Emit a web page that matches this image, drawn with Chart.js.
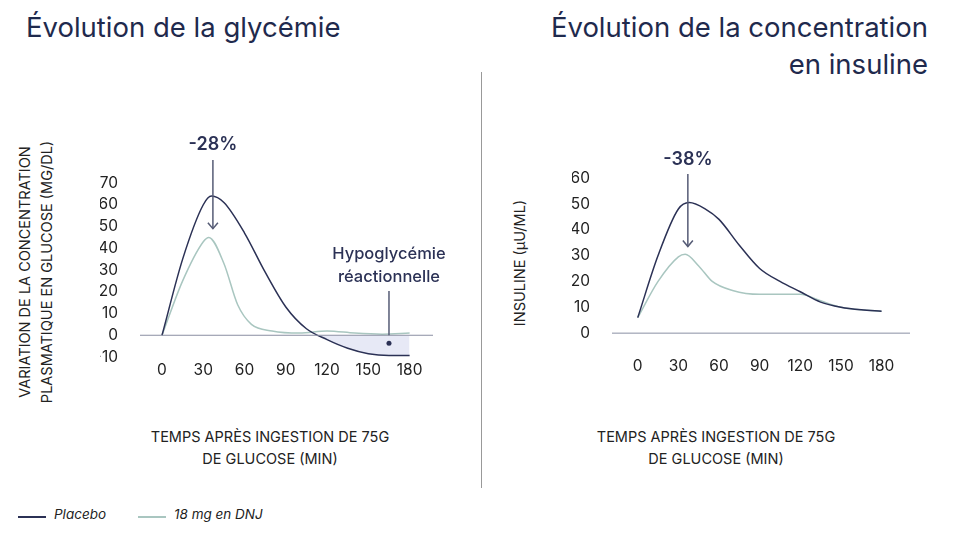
<!DOCTYPE html>
<html><head><meta charset="utf-8">
<script src="https://cdn.jsdelivr.net/npm/chart.js@4"></script>
<style>
body{margin:0;width:960px;height:540px;background:#fff;font-family:Inter,"Noto Sans",sans-serif;color:#1f2a4d;position:relative;overflow:hidden}
canvas{position:absolute;top:0}
.t{position:absolute;font-size:27.5px;color:#1f2a4d;line-height:37px}
.ax{position:absolute;font-size:14.5px;color:#222;text-align:center;line-height:22px}
.leg{position:absolute;top:506px;font-size:13.5px;font-style:italic;color:#222}
.ln{position:absolute;top:516px;height:1.5px;width:28px}
</style></head><body>
<div class="t" style="left:26px;top:9px">Évolution de la glycémie</div>
<div class="t" style="right:32px;top:9px;text-align:right">Évolution de la concentration<br>en insuline</div>
<div style="position:absolute;left:481px;top:72px;width:1px;height:416px;background:#999"></div>
<div class="ax" style="left:120px;width:300px;top:426px">TEMPS APRÈS INGESTION DE 75G<br>DE GLUCOSE (MIN)</div>
<div class="ax" style="left:566px;width:300px;top:426px">TEMPS APRÈS INGESTION DE 75G<br>DE GLUCOSE (MIN)</div>
<div class="ax" style="left:-124px;top:250px;width:320px;transform:rotate(-90deg)">VARIATION DE LA CONCENTRATION<br>PLASMATIQUE EN GLUCOSE (MG/DL)</div>
<div class="ax" style="left:420px;top:252px;width:200px;transform:rotate(-90deg)">INSULINE (µU/ML)</div>
<div class="ln" style="left:18px;background:#2b3155"></div><div class="leg" style="left:54px">Placebo</div>
<div class="ln" style="left:138px;background:#a9c6c0"></div><div class="leg" style="left:174px">18 mg en DNJ</div>
<canvas id="c1" width="480" height="540" style="left:0"></canvas>
<canvas id="c2" width="480" height="540" style="left:480px"></canvas>
<script>
// Glycémie
const glucPlaceboX = [0, 15, 30, 36, 45, 60, 75, 90, 105, 120, 135, 150, 165, 180];
const glucPlaceboY = [0, 35, 60, 64, 61, 47, 29, 13, 3, -2, -6, -8.5, -9.3, -9.3];
const glucDnjX = [0, 15, 30, 34, 45, 55, 65, 80, 100, 120, 140, 160, 180];
const glucDnjY = [0, 25, 43, 45, 33, 14, 5, 2, 1, 2, 1, 0.5, 1];
// Insuline
const insPlaceboX = [0, 15, 30, 38, 50, 60, 75, 90, 105, 120, 135, 150, 165, 180];
const insPlaceboY = [6, 30, 48, 50.5, 48, 44, 34, 25, 20, 16, 12, 10, 9, 8.5];
const insDnjX = [0, 15, 30, 35, 45, 55, 70, 90, 105, 120, 135, 150, 165, 180];
const insDnjY = [6, 20, 29.5, 30.5, 26, 20, 16.5, 15, 15, 15, 12.5, 10, 9, 8.5];
const xTicks = [0, 30, 60, 90, 120, 150, 180];
const glucTicks = [-10, 0, 10, 20, 30, 40, 50, 60, 70];
const insTicks = [0, 10, 20, 30, 40, 50, 60];

const dark = '#2b3155', light = '#a9c6c0';
const pts = (xs, ys) => xs.map((x, i) => ({x: x, y: ys[i]}));

function annot(id, draw) {
    return {id: id, afterDatasetsDraw(chart) {
        const ctx = chart.ctx, xs = chart.scales.x, ys = chart.scales.y;
        ctx.save();
        // ligne de base à zéro
        ctx.strokeStyle = '#8a8fa3'; ctx.lineWidth = 1;
        ctx.beginPath();
        ctx.moveTo(chart.chartArea.left, ys.getPixelForValue(0));
        ctx.lineTo(chart.chartArea.right, ys.getPixelForValue(0));
        ctx.stroke();
        draw(ctx, xs, ys);
        ctx.restore();
    }};
}
function arrow(ctx, x, y1, y2) {
    ctx.strokeStyle = '#555b75'; ctx.lineWidth = 1.5;
    ctx.beginPath(); ctx.moveTo(x, y1); ctx.lineTo(x, y2); ctx.stroke();
    ctx.beginPath(); ctx.moveTo(x - 5, y2 - 6); ctx.lineTo(x, y2); ctx.lineTo(x + 5, y2 - 6); ctx.stroke();
}

function makeChart(id, placebo, dnj, ticksY, yMin, yMax, xMin, xMax, pad, xPad, plugin, fillBelow) {
    return new Chart(document.getElementById(id), {
        type: 'line',
        data: {datasets: [
            {data: placebo, borderColor: dark, borderWidth: 1.5, pointRadius: 0, tension: 0.4, cubicInterpolationMode: 'monotone',
             fill: fillBelow ? {target: 'origin', above: 'rgba(0,0,0,0)', below: 'rgba(215,218,240,0.6)'} : false},
            {data: dnj, borderColor: light, borderWidth: 1.5, pointRadius: 0, tension: 0.4, cubicInterpolationMode: 'monotone', fill: false}
        ]},
        options: {
            responsive: false, animation: false,
            layout: {padding: pad},
            plugins: {legend: {display: false}, tooltip: {enabled: false}},
            scales: {
                x: {type: 'linear', min: xMin, max: xMax, grid: {display: false}, border: {display: false},
                    afterBuildTicks: s => { s.ticks = xTicks.map(v => ({value: v})); },
                    afterFit: s => { s.height = 30; },
                    ticks: {color: '#222', font: {family: 'Inter', size: 15.5}, padding: xPad, maxRotation: 0}},
                y: {min: yMin, max: yMax, grid: {display: false}, border: {display: false},
                    afterBuildTicks: s => { s.ticks = ticksY.map(v => ({value: v})); },
                    afterFit: s => { s.width = 40; },
                    ticks: {color: '#222', font: {family: 'Inter', size: 15.5}, padding: 14,
                            callback: v => String(v).replace('-', '\u2212')}}
            }
        },
        plugins: [plugin]
    });
}

makeChart('c1', pts(glucPlaceboX, glucPlaceboY), pts(glucDnjX, glucDnjY), glucTicks, -10, 70, -16, 197,
    {left: 100, right: 47, top: 183, bottom: 153}, -4,
    annot('a1', (ctx, xs, ys) => {
        const x = xs.getPixelForValue(37);
        ctx.fillStyle = dark; ctx.font = '600 18px Inter'; ctx.textAlign = 'center';
        ctx.fillText('-28%', x, 150);
        arrow(ctx, x, 160, ys.getPixelForValue(49));
        const hx = xs.getPixelForValue(165);
        ctx.font = '500 16.5px Inter';
        ctx.fillText('Hypoglycémie', hx, 259);
        ctx.fillText('réactionnelle', hx, 282);
        ctx.strokeStyle = '#555b75'; ctx.lineWidth = 1.5;
        ctx.beginPath(); ctx.moveTo(hx, 291); ctx.lineTo(hx, ys.getPixelForValue(0)); ctx.stroke();
        ctx.beginPath(); ctx.arc(hx, ys.getPixelForValue(-3.7), 2.5, 0, Math.PI * 2); ctx.fill();
    }), true);

makeChart('c2', pts(insPlaceboX, insPlaceboY), pts(insDnjX, insDnjY), insTicks, -10, 60, -19, 201,
    {left: 92, right: 50, top: 178, bottom: 151}, -10,
    annot('a2', (ctx, xs, ys) => {
        const x = xs.getPixelForValue(37);
        ctx.fillStyle = dark; ctx.font = '600 18px Inter'; ctx.textAlign = 'center';
        ctx.fillText('-38%', x, 165);
        arrow(ctx, x, 174, ys.getPixelForValue(33.5));
    }), false);
</script>
</body></html>
